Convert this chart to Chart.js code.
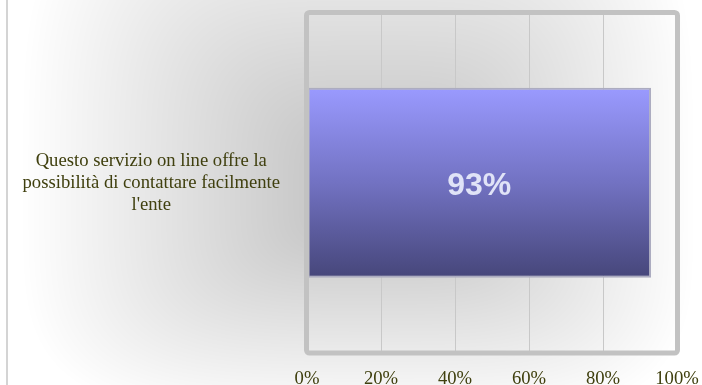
<!DOCTYPE html>
<html>
<head>
<meta charset="utf-8">
<script src="https://cdn.jsdelivr.net/npm/chart.js@4/dist/chart.umd.min.js"></script>
<style>
  html, body { margin: 0; padding: 0; background: #ffffff; }
  #wrap { width: 702px; height: 385px; }
</style>
</head>
<body>
<div id="wrap"><canvas id="chart" width="702" height="385"></canvas></div>
<script>
// Survey item and share of positive answers (percent)
const categories = [["Questo servizio on line offre la", "possibilità di contattare facilmente", "l'ente"]];
const values = [93];
const axisMin = 0;
const axisMax = 100;
const axisStep = 20;

const serifFont = { family: "'Liberation Serif', 'Times New Roman', serif", size: 18.67 };
const labelColor = '#40400f';
const BAR_PCT = 0.558;

// Soft grey "from centre" backdrop with rounded-rectangle falloff
function makeBackdrop(w, h) {
  const off = document.createElement('canvas');
  off.width = w; off.height = h;
  const g = off.getContext('2d');
  const img = g.createImageData(w, h);
  const cx = 375, cy = 195;
  const rxL = 355, rxR = 320, ryT = 330, ryB = 225;
  const c0 = 188;
  const p = 4;
  for (let y = 0; y < h; y++) {
    const dy = y < cy ? (cy - y) / ryT : (y - cy) / ryB;
    for (let x = 0; x < w; x++) {
      const dx = x < cx ? (cx - x) / rxL : (x - cx) / rxR;
      const d = Math.min(1, Math.pow(Math.pow(dx, p) + Math.pow(dy, p), 1 / p));
      const v = Math.round(c0 + (255 - c0) * d);
      const i = (y * w + x) * 4;
      img.data[i] = v; img.data[i + 1] = v; img.data[i + 2] = v; img.data[i + 3] = 255;
    }
  }
  g.putImageData(img, 0, 0);
  return off;
}

const backdrop = makeBackdrop(702, 385);

const backdropPlugin = {
  id: 'backdrop',
  beforeDraw(chart) {
    const ctx = chart.ctx;
    ctx.save();
    ctx.drawImage(backdrop, 0, 0);
    ctx.strokeStyle = '#c6c6c6';
    ctx.lineWidth = 1.5;
    ctx.beginPath();
    ctx.moveTo(7, 0);
    ctx.lineTo(7, chart.height);
    ctx.stroke();
    ctx.restore();
  }
};

// Thick rounded frame round the plot, then the value labels on the bars
const framePlugin = {
  id: 'frameAndLabels',
  afterDatasetsDraw(chart) {
    const ctx = chart.ctx;
    const a = chart.chartArea;
    ctx.save();
    ctx.strokeStyle = '#c2c2c2';
    ctx.lineWidth = 5;
    ctx.lineJoin = 'round';
    ctx.beginPath();
    ctx.roundRect(a.left - 0.5, a.top, a.right - a.left + 1, a.bottom - a.top, 3);
    ctx.stroke();

    const meta = chart.getDatasetMeta(0);
    ctx.fillStyle = '#e0e3f7';
    ctx.font = "bold 32px 'Liberation Sans', Arial, sans-serif";
    ctx.textAlign = 'center';
    ctx.textBaseline = 'middle';
    meta.data.forEach((bar, i) => {
      const v = chart.data.datasets[0].data[i];
      ctx.fillText(v + '%', (bar.base + bar.x) / 2, bar.y + 3);
    });
    ctx.restore();
  }
};

function barGradient(context) {
  const chart = context.chart;
  const y = chart.scales && chart.scales.y;
  if (!chart.chartArea || !y) return '#7070bc';
  const c = y.getPixelForValue(context.dataIndex || 0);
  const half = (y.height / categories.length) * BAR_PCT / 2;
  const g = chart.ctx.createLinearGradient(0, c - half, 0, c + half);
  g.addColorStop(0, '#9a9aff');
  g.addColorStop(0.5, '#7272c2');
  g.addColorStop(1, '#46467a');
  return g;
}

new Chart(document.getElementById('chart'), {
  type: 'bar',
  data: {
    labels: categories,
    datasets: [{
      data: values,
      backgroundColor: barGradient,
      borderColor: '#acacc0',
      borderWidth: 2,
      borderSkipped: false,
      barPercentage: BAR_PCT,
      categoryPercentage: 1
    }]
  },
  options: {
    indexAxis: 'y',
    responsive: false,
    animation: false,
    devicePixelRatio: 1,
    layout: { padding: { left: 0, right: 25, top: 12.5, bottom: 0 } },
    plugins: {
      legend: { display: false },
      tooltip: { enabled: false }
    },
    scales: {
      x: {
        min: axisMin,
        max: axisMax,
        ticks: {
          stepSize: axisStep,
          padding: 15,
          color: labelColor,
          font: serifFont,
          maxRotation: 0,
          callback: (v) => v + '%'
        },
        grid: { color: '#c8c8c8', lineWidth: 1, drawTicks: false },
        border: { display: false },
        afterFit(scale) {
          scale.height = 32;
          scale.paddingLeft = 0;
          scale.paddingRight = 0;
        }
      },
      y: {
        ticks: {
          padding: 27,
          crossAlign: 'center',
          color: labelColor,
          font: Object.assign({ lineHeight: 1.18 }, serifFont)
        },
        grid: { display: false, drawTicks: false },
        border: { display: false },
        afterFit(scale) {
          scale.width = 307;
          scale.paddingTop = 0;
          scale.paddingBottom = 0;
        }
      }
    }
  },
  plugins: [backdropPlugin, framePlugin]
});
</script>
</body>
</html>
